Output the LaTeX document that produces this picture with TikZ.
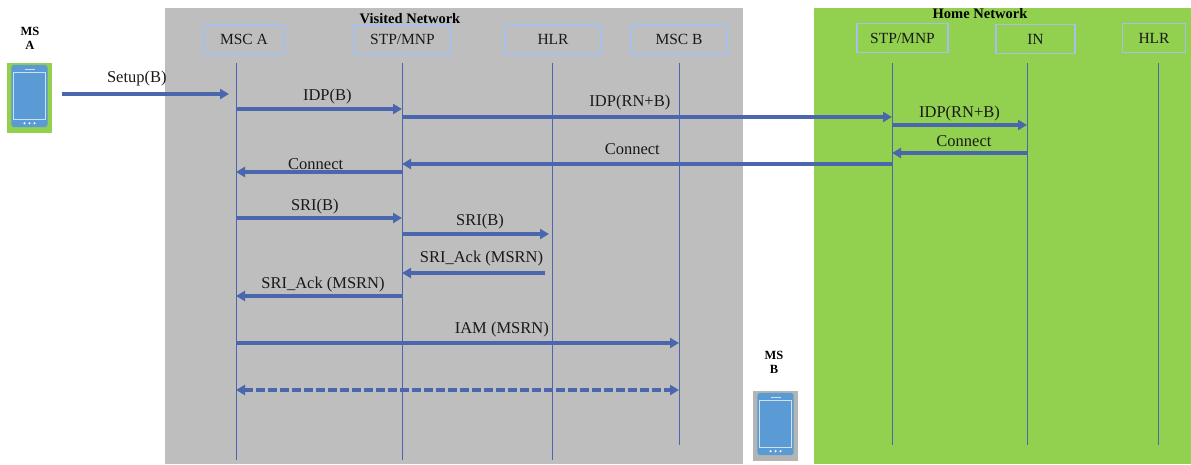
\documentclass[tikz,border=0pt]{standalone}
\usepackage{fontspec}
\setmainfont{Liberation Serif}
\usetikzlibrary{arrows.meta}
\definecolor{msgblue}{HTML}{4A66AC}
\definecolor{boxblue}{HTML}{A8C0E8}
\definecolor{phoneblue}{HTML}{5B9BD5}
\definecolor{netgray}{HTML}{BEBEBE}
\definecolor{netgreen}{HTML}{92D050}
\tikzset{
  entity/.style={draw=boxblue,line width=1.1pt,minimum height=29pt,font=\fontsize{15.5}{17}\selectfont,text=black!90},
  lifeline/.style={draw=msgblue,line width=1pt},
  msg/.style={draw=msgblue,line width=3.2pt,-{Triangle[length=9pt,width=10pt]}},
  msgboth/.style={draw=msgblue,line width=3.2pt,dash pattern=on 9pt off 3pt,{Triangle[length=9pt,width=10pt]}-{Triangle[length=9pt,width=10pt]}},
  msglabel/.style={above,inner sep=2pt,font=\fontsize{16.5}{18}\selectfont,text=black!90},
  nettitle/.style={font=\fontsize{14.5}{16}\selectfont\bfseries},
  mslabel/.style={align=center,font=\fontsize{12.5}{15}\selectfont\bfseries},
  phonebg/.style={minimum width=45pt,minimum height=70pt,inner sep=0pt},
}
% one phone, drawn round a named background node
\newcommand{\phoneicon}[1]{
  \fill[phoneblue,rounded corners=3pt] ([xshift=4.5pt,yshift=-2pt]#1.north west) rectangle ([xshift=-4.5pt,yshift=6pt]#1.south east);
  \draw[white!70!phoneblue,line width=1.1pt] ([xshift=6.5pt,yshift=-10pt]#1.north west) rectangle ([xshift=-6.5pt,yshift=14pt]#1.south east);
  \draw[white!70!phoneblue,line width=1.1pt] ([xshift=-5pt,yshift=-7pt]#1.north) -- ([xshift=5pt,yshift=-7pt]#1.north);
  \foreach \dx in {-5,0,5}
    \fill[white] ([xshift=\dx pt,yshift=10pt]#1.south) circle (1.2pt);
}
\begin{document}
\begin{tikzpicture}[x=1pt,y=-1pt]
  \useasboundingbox (0,0) rectangle (1191,464);
  % networks
  \node[fill=netgray,minimum width=578pt,minimum height=456pt,inner sep=0pt] (visited) at (454,236) {};
  \node[fill=netgreen,minimum width=377pt,minimum height=456pt,inner sep=0pt] (home) at (1002.5,236) {};
  \node[nettitle] (visitedT) at (410,19) {Visited Network};
  \node[nettitle] (homeT) at (980,14) {Home Network};
  % entities
  \node[entity,minimum width=80pt] (mscA) at (244,39.5) {MSC A};
  \node[entity,minimum width=97pt] (stpA) at (402.5,39.5) {STP/MNP};
  \node[entity,minimum width=96pt] (hlrA) at (553,39.5) {HLR};
  \node[entity,minimum width=96pt] (mscB) at (679,39.5) {MSC B};
  \node[entity,minimum width=91pt] (stpH) at (902.5,38) {STP/MNP};
  \node[entity,minimum width=79pt] (inH) at (1035.5,39) {IN};
  \node[entity,minimum width=63pt] (hlrH) at (1154,38) {HLR};
  % lifelines
  \foreach \name/\x/\ybot in {mscA/236/460,stpA/402/460,hlrA/552/460,mscB/679/445,stpH/892/445,inH/1027/445,hlrH/1158/445}{
    \coordinate (\name-t) at (\x,63);
    \coordinate (\name-b) at (\x,\ybot);
    \draw[lifeline] (\name-t) -- (\name-b);
  }
  % message levels
  \foreach \name/\y in {l0/94,l1/109,l2/117,l3/125,l4/153,l5/164,l6/172,l7/218,l8/234,l9/273,l10/296,l11/343,l12/390}
    \coordinate (\name) at (0,\y);
  % phones
  \node[phonebg,fill=netgreen] (phoneA) at (29.5,98) {};
  \phoneicon{phoneA}
  \node[phonebg,fill=netgray!95!black] (phoneB) at (775.5,426) {};
  \phoneicon{phoneB}
  \node[mslabel] (msA) at (30,38) {MS\\[-1pt]A};
  \node[mslabel] (msB) at (774,362.5) {MS\\[-1pt]B};
  \coordinate (setupS) at (62,94);
  % messages
  \path[every edge/.style={msg,draw}]
    (setupS) edge[shorten >=7pt] node[msglabel,pos=.43,yshift=4pt] {Setup(B)} (mscA-t|-l0)
    (mscA-t|-l1) edge node[msglabel,pos=.55,yshift=1pt] {IDP(B)} (stpA-t|-l1)
    (stpA-t|-l2) edge node[msglabel,pos=.465,yshift=3pt] {IDP(RN+B)} (stpH-t|-l2)
    (stpH-t|-l3) edge node[msglabel,pos=.5] {IDP(RN+B)} (inH-t|-l3)
    (inH-t|-l4) edge node[msglabel,pos=.467,yshift=3pt] {Connect} (stpH-t|-l4)
    (stpH-t|-l5) edge node[msglabel,pos=.53,yshift=6pt] {Connect} (stpA-t|-l5)
    (stpA-t|-l6) edge node[msglabel,pos=.52,yshift=-1pt] {Connect} (mscA-t|-l6)
    (mscA-t|-l7) edge node[msglabel,pos=.475] {SRI(B)} (stpA-t|-l7)
    (stpA-t|-l8) edge[shorten >=3pt] node[msglabel,pos=.52,yshift=1pt] {SRI(B)} (hlrA-t|-l8)
    (hlrA-t|-l9) edge[shorten <=7pt] node[msglabel,pos=.47,yshift=3pt] {SRI\_Ack (MSRN)} (stpA-t|-l9)
    (stpA-t|-l10) edge node[msglabel,pos=.476] {SRI\_Ack (MSRN)} (mscA-t|-l10)
    (mscA-t|-l11) edge node[msglabel,pos=.6,yshift=2pt] {IAM (MSRN)} (mscB-t|-l11);
  \path[every edge/.style={msgboth,draw}]
    (mscA-t|-l12) edge (mscB-t|-l12);
\end{tikzpicture}
\end{document}
